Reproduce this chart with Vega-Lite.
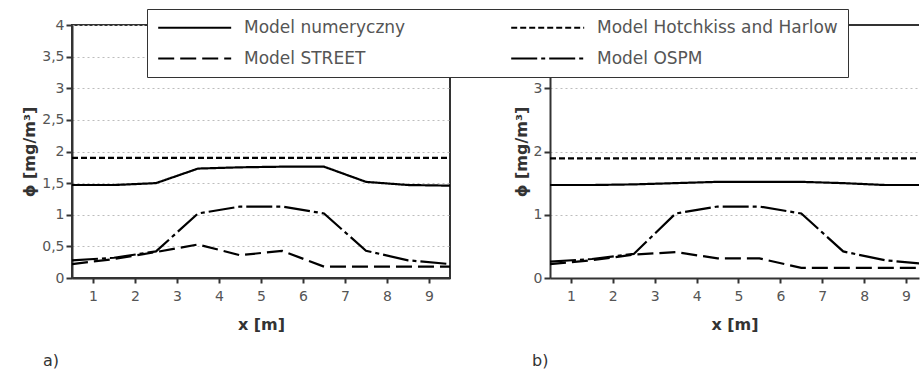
{
  "$schema": "https://vega.github.io/schema/vega-lite/v6.json",
  "background": "white",
  "padding": {"left": 20, "top": 8, "right": 0, "bottom": 0},
  "datasets": {
    "a": [
      {"model": "Model numeryczny", "x": 0.5, "y": 1.47}, {"model": "Model numeryczny", "x": 1.5, "y": 1.47}, {"model": "Model numeryczny", "x": 2.5, "y": 1.5}, {"model": "Model numeryczny", "x": 3.5, "y": 1.73}, {"model": "Model numeryczny", "x": 4.5, "y": 1.75}, {"model": "Model numeryczny", "x": 5.5, "y": 1.76}, {"model": "Model numeryczny", "x": 6.5, "y": 1.76}, {"model": "Model numeryczny", "x": 7.5, "y": 1.52}, {"model": "Model numeryczny", "x": 8.5, "y": 1.47}, {"model": "Model numeryczny", "x": 9.5, "y": 1.46},
      {"model": "Model Hotchkiss and Harlow", "x": 0.5, "y": 1.9}, {"model": "Model Hotchkiss and Harlow", "x": 1.5, "y": 1.9}, {"model": "Model Hotchkiss and Harlow", "x": 2.5, "y": 1.9}, {"model": "Model Hotchkiss and Harlow", "x": 3.5, "y": 1.9}, {"model": "Model Hotchkiss and Harlow", "x": 4.5, "y": 1.9}, {"model": "Model Hotchkiss and Harlow", "x": 5.5, "y": 1.9}, {"model": "Model Hotchkiss and Harlow", "x": 6.5, "y": 1.9}, {"model": "Model Hotchkiss and Harlow", "x": 7.5, "y": 1.9}, {"model": "Model Hotchkiss and Harlow", "x": 8.5, "y": 1.9}, {"model": "Model Hotchkiss and Harlow", "x": 9.5, "y": 1.9},
      {"model": "Model STREET", "x": 0.5, "y": 0.22}, {"model": "Model STREET", "x": 1.5, "y": 0.3}, {"model": "Model STREET", "x": 2.5, "y": 0.41}, {"model": "Model STREET", "x": 3.5, "y": 0.53}, {"model": "Model STREET", "x": 4.5, "y": 0.36}, {"model": "Model STREET", "x": 5.5, "y": 0.43}, {"model": "Model STREET", "x": 6.5, "y": 0.18}, {"model": "Model STREET", "x": 7.5, "y": 0.18}, {"model": "Model STREET", "x": 8.5, "y": 0.18}, {"model": "Model STREET", "x": 9.5, "y": 0.18},
      {"model": "Model OSPM", "x": 0.5, "y": 0.28}, {"model": "Model OSPM", "x": 1.5, "y": 0.32}, {"model": "Model OSPM", "x": 2.5, "y": 0.42}, {"model": "Model OSPM", "x": 3.5, "y": 1.02}, {"model": "Model OSPM", "x": 4.5, "y": 1.13}, {"model": "Model OSPM", "x": 5.5, "y": 1.13}, {"model": "Model OSPM", "x": 6.5, "y": 1.02}, {"model": "Model OSPM", "x": 7.5, "y": 0.43}, {"model": "Model OSPM", "x": 8.5, "y": 0.28}, {"model": "Model OSPM", "x": 9.5, "y": 0.22}
    ],
    "b": [
      {"model": "Model numeryczny", "x": 0.5, "y": 1.47}, {"model": "Model numeryczny", "x": 1.5, "y": 1.47}, {"model": "Model numeryczny", "x": 2.5, "y": 1.48}, {"model": "Model numeryczny", "x": 3.5, "y": 1.5}, {"model": "Model numeryczny", "x": 4.5, "y": 1.52}, {"model": "Model numeryczny", "x": 5.5, "y": 1.52}, {"model": "Model numeryczny", "x": 6.5, "y": 1.52}, {"model": "Model numeryczny", "x": 7.5, "y": 1.5}, {"model": "Model numeryczny", "x": 8.5, "y": 1.47}, {"model": "Model numeryczny", "x": 9.5, "y": 1.47},
      {"model": "Model Hotchkiss and Harlow", "x": 0.5, "y": 1.89}, {"model": "Model Hotchkiss and Harlow", "x": 1.5, "y": 1.89}, {"model": "Model Hotchkiss and Harlow", "x": 2.5, "y": 1.89}, {"model": "Model Hotchkiss and Harlow", "x": 3.5, "y": 1.89}, {"model": "Model Hotchkiss and Harlow", "x": 4.5, "y": 1.89}, {"model": "Model Hotchkiss and Harlow", "x": 5.5, "y": 1.89}, {"model": "Model Hotchkiss and Harlow", "x": 6.5, "y": 1.89}, {"model": "Model Hotchkiss and Harlow", "x": 7.5, "y": 1.89}, {"model": "Model Hotchkiss and Harlow", "x": 8.5, "y": 1.89}, {"model": "Model Hotchkiss and Harlow", "x": 9.5, "y": 1.89},
      {"model": "Model STREET", "x": 0.5, "y": 0.22}, {"model": "Model STREET", "x": 1.5, "y": 0.28}, {"model": "Model STREET", "x": 2.5, "y": 0.37}, {"model": "Model STREET", "x": 3.5, "y": 0.41}, {"model": "Model STREET", "x": 4.5, "y": 0.31}, {"model": "Model STREET", "x": 5.5, "y": 0.31}, {"model": "Model STREET", "x": 6.5, "y": 0.16}, {"model": "Model STREET", "x": 7.5, "y": 0.16}, {"model": "Model STREET", "x": 8.5, "y": 0.16}, {"model": "Model STREET", "x": 9.5, "y": 0.16},
      {"model": "Model OSPM", "x": 0.5, "y": 0.26}, {"model": "Model OSPM", "x": 1.5, "y": 0.3}, {"model": "Model OSPM", "x": 2.5, "y": 0.38}, {"model": "Model OSPM", "x": 3.5, "y": 1.02}, {"model": "Model OSPM", "x": 4.5, "y": 1.13}, {"model": "Model OSPM", "x": 5.5, "y": 1.13}, {"model": "Model OSPM", "x": 6.5, "y": 1.02}, {"model": "Model OSPM", "x": 7.5, "y": 0.42}, {"model": "Model OSPM", "x": 8.5, "y": 0.28}, {"model": "Model OSPM", "x": 9.5, "y": 0.22}
    ]
  },
  "spacing": 57,
  "hconcat": [
    {
      "width": 378,
      "height": 253,
      "title": {"text": "a)", "orient": "bottom", "anchor": "start", "frame": "group", "dx": -29, "offset": 21},
      "data": {"name": "a"},
      "mark": {"type": "line", "color": "black", "strokeWidth": 2.2},
      "encoding": {
        "x": {"field": "x", "type": "quantitative", "scale": {"domain": [0.5, 9.5], "nice": false, "zero": false}, "axis": {"title": "x [m]", "values": [1, 2, 3, 4, 5, 6, 7, 8, 9], "grid": false, "tickSize": 5, "labelPadding": 6, "titlePadding": 13}},
        "y": {"field": "y", "type": "quantitative", "scale": {"domain": [0, 4], "nice": false}, "axis": {"title": "ϕ [mg/m³]", "values": [0, 0.5, 1, 1.5, 2, 2.5, 3, 3.5, 4], "labelExpr": "replace(format(datum.value, '.1~f'), '.', ',')", "grid": true, "gridDash": [2, 3], "gridColor": "#bdbdbd", "gridWidth": 1, "tickSize": 6, "labelPadding": 2, "titlePadding": 4}},
        "strokeDash": {"field": "model", "type": "nominal", "scale": {"domain": ["Model numeryczny", "Model Hotchkiss and Harlow", "Model STREET", "Model OSPM"], "range": [[1, 0], [6, 3], [16, 6], [26, 4, 4, 4]]}}
      }
    },
    {
      "width": 369,
      "height": 253,
      "view": {"stroke": null},
      "title": {"text": "b)", "orient": "bottom", "anchor": "start", "frame": "group", "dx": -18, "offset": 21},
      "data": {"name": "b"},
      "layer": [
        {
          "mark": {"type": "rule", "color": "#333", "strokeWidth": 2},
          "encoding": {"y": {"datum": 4}}
        },
        {
          "mark": {"type": "line", "color": "black", "strokeWidth": 2.2, "clip": true},
          "encoding": {
            "x": {"field": "x", "type": "quantitative", "scale": {"domain": [0.5, 9.31], "nice": false, "zero": false}, "axis": {"title": "x [m]", "values": [1, 2, 3, 4, 5, 6, 7, 8, 9], "grid": false, "tickSize": 5, "labelPadding": 6, "titlePadding": 13}},
            "y": {"field": "y", "type": "quantitative", "scale": {"domain": [0, 4], "nice": false}, "axis": {"title": "ϕ [mg/m³]", "values": [0, 0.5, 1, 1.5, 2, 2.5, 3, 3.5, 4], "labelExpr": "replace(format(datum.value, '.1~f'), '.', ',')", "grid": true, "gridDash": [2, 3], "gridColor": "#bdbdbd", "gridWidth": 1, "tickSize": 6, "labelPadding": 2, "titlePadding": 4}},
            "strokeDash": {"field": "model", "type": "nominal", "scale": {"domain": ["Model numeryczny", "Model Hotchkiss and Harlow", "Model STREET", "Model OSPM"], "range": [[1, 0], [6, 3], [16, 6], [26, 4, 4, 4]]}}
          }
        }
      ]
    }
  ],
  "config": {
    "font": "DejaVu Sans",
    "view": {"stroke": "#333", "strokeWidth": 2},
    "title": {"font": "DejaVu Sans", "fontSize": 16, "fontWeight": "normal", "color": "#333"},
    "axis": {"labelFont": "DejaVu Sans", "labelFontSize": 14, "labelColor": "#555", "titleFont": "DejaVu Sans", "titleFontSize": 16, "titleFontWeight": "bold", "titleColor": "#333", "domainColor": "#333", "domainWidth": 2, "tickColor": "#333", "tickWidth": 2},
    "legend": {
      "orient": "none",
      "legendX": 75,
      "legendY": -16,
      "title": null,
      "direction": "horizontal",
      "columns": 2,
      "columnPadding": 101,
      "rowPadding": 13,
      "padding": 10,
      "symbolType": "M-1,0H9",
      "symbolSize": 213,
      "symbolStrokeWidth": 2,
      "symbolStrokeColor": "black",
      "labelOffset": 70,
      "labelFont": "DejaVu Sans",
      "labelFontSize": 17,
      "labelColor": "#555",
      "labelLimit": 400,
      "strokeColor": "#333",
      "fillColor": "white"
    }
  }
}
